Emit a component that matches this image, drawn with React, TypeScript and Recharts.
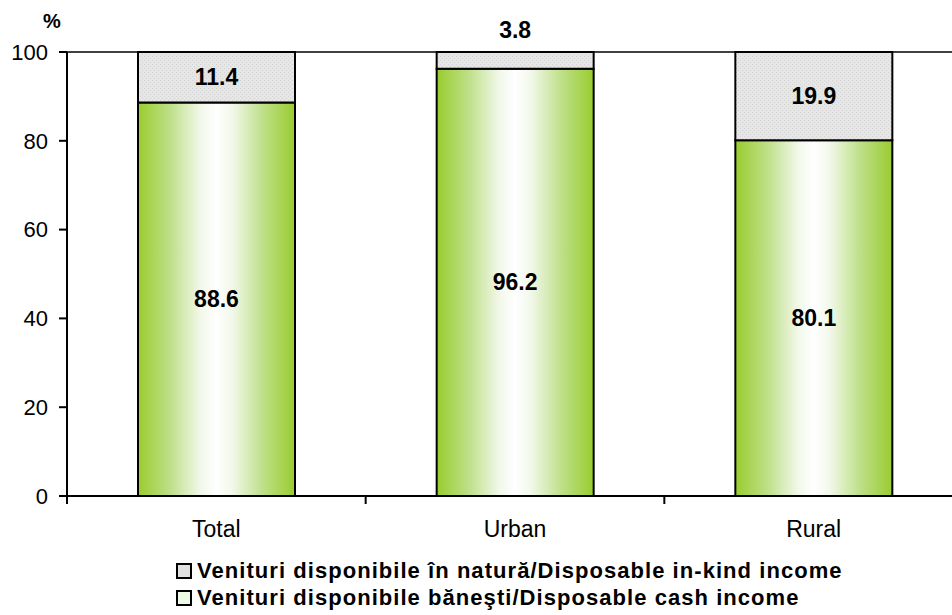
import React from "react"
import {
  BarChart,
  Bar,
  XAxis,
  YAxis,
  ReferenceLine,
  LabelList,
} from "recharts"

const categories = ["Total", "Urban", "Rural"]
const cashIncome = [88.6, 96.2, 80.1]
const inKindIncome = [11.4, 3.8, 19.9]
const yTicks = [0, 20, 40, 60, 80, 100]

const legendNames = {
  inKind: "Venituri disponibile în natură/Disposable in-kind income",
  cash: "Venituri disponibile băneşti/Disposable cash income",
}

const data = categories.map((c, i) => ({
  name: c,
  cash: cashIncome[i],
  inKind: inKindIncome[i],
}))

const FONT = "Arial, 'Liberation Sans', sans-serif"
const CHART_W = 980
const MARGIN_R = 17
const AXIS_W = 67
const BAND = (CHART_W - MARGIN_R - AXIS_W) / categories.length

function CategoryTick(props: any) {
  const { x, y, payload, index } = props
  return (
    <g>
      <line x1={x - BAND / 2} x2={x - BAND / 2} y1={y} y2={y + 8} stroke="#000" strokeWidth={2} />
      {index === categories.length - 1 && (
        <line x1={x + BAND / 2} x2={x + BAND / 2} y1={y} y2={y + 8} stroke="#000" strokeWidth={2} />
      )}
      <text x={x} y={y + 41} textAnchor="middle" fontSize={23} fontFamily={FONT} fill="#000">
        {payload.value}
      </text>
    </g>
  )
}

function ValueLabel(props: any) {
  const { x, y, width, height, value } = props
  const small = height < 25
  return (
    <text
      x={x + width / 2}
      y={small ? y - 14 : y + height / 2 + 8}
      textAnchor="middle"
      fontSize={23}
      fontWeight="bold"
      fontFamily={FONT}
      fill="#000"
    >
      {value.toFixed(1)}
    </text>
  )
}

function LegendBox() {
  const items: { key: "inKind" | "cash"; fill: string }[] = [
    { key: "inKind", fill: "#e2e2e2" },
    { key: "cash", fill: "#eefae6" },
  ]
  return (
    <div
      style={{
        position: "absolute",
        left: 175,
        top: 557,
        fontFamily: FONT,
        fontSize: 22,
        letterSpacing: 1.05,
        fontWeight: "bold",
        color: "#000",
        lineHeight: "27px",
        whiteSpace: "nowrap",
      }}
    >
      {items.map((it) => (
        <div key={it.key} style={{ display: "flex", alignItems: "center", height: 27 }}>
          <svg width={20} height={18} style={{ marginRight: 2 }}>
            <rect x={2} y={2} width={14} height={14} fill={it.fill} stroke="#000" strokeWidth={2} />
          </svg>
          {legendNames[it.key]}
        </div>
      ))}
    </div>
  )
}

export default function App() {
  return (
    <div style={{ position: "absolute", left: 0, top: 0, width: 952, height: 615, overflow: "hidden", background: "#fff" }}>
      <BarChart
        width={CHART_W}
        height={615}
        data={data}
        margin={{ top: 52, right: MARGIN_R, left: 0, bottom: 0 }}
        barSize={157}
      >
        <defs>
          <linearGradient id="greenGrad" x1="0" y1="0" x2="1" y2="0">
            <stop offset="0%" stopColor="#99cc2e" />
            <stop offset="20%" stopColor="#bddf86" />
            <stop offset="40%" stopColor="#f2f8ea" />
            <stop offset="50%" stopColor="#ffffff" />
            <stop offset="60%" stopColor="#f2f8ea" />
            <stop offset="80%" stopColor="#bddf86" />
            <stop offset="100%" stopColor="#99cc2e" />
          </linearGradient>
          <pattern id="greyPat" width="4" height="4" patternUnits="userSpaceOnUse">
            <rect width="4" height="4" fill="#e6e6e6" />
            <rect x="0" y="0" width="1" height="1" fill="#d4d4d4" />
            <rect x="2" y="2" width="1" height="1" fill="#d4d4d4" />
          </pattern>
        </defs>
        <XAxis
          dataKey="name"
          axisLine={{ stroke: "#000", strokeWidth: 2 }}
          tickLine={false}
          tickSize={0}
          tickMargin={0}
          height={119}
          interval={0}
          tick={<CategoryTick />}
        />
        <YAxis
          width={AXIS_W}
          domain={[0, 100]}
          ticks={yTicks}
          axisLine={{ stroke: "#000", strokeWidth: 2 }}
          tickLine={{ stroke: "#000", strokeWidth: 2 }}
          tickSize={8}
          tickMargin={11}
          tick={{ fill: "#000", fontSize: 22, fontFamily: FONT }}
          label={{
            content: () => (
              <text x={52} y={28} textAnchor="middle" fontSize={20} fontWeight="bold" fontFamily={FONT} fill="#000">
                %
              </text>
            ),
          }}
        />
        <ReferenceLine y={100} stroke="#000" strokeWidth={1.5} />
        <Bar dataKey="cash" name={legendNames.cash} stackId="a" fill="url(#greenGrad)" stroke="#000" strokeWidth={2} isAnimationActive={false}>
          <LabelList dataKey="cash" content={<ValueLabel />} />
        </Bar>
        <Bar dataKey="inKind" name={legendNames.inKind} stackId="a" fill="url(#greyPat)" stroke="#000" strokeWidth={2} isAnimationActive={false}>
          <LabelList dataKey="inKind" content={<ValueLabel />} />
        </Bar>
      </BarChart>
      <LegendBox />
    </div>
  )
}
